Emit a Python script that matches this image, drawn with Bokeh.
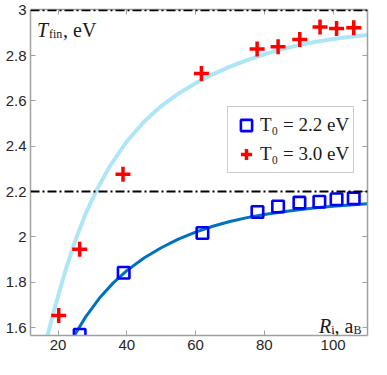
from bokeh.plotting import figure
from bokeh.models import (Range1d, LinearAxis, Legend, LegendItem, Label, Span,
                          FixedTicker, CustomJSTickFormatter)
from bokeh.embed import file_html
from bokeh.resources import INLINE

# ---- data ----
r_22 = [26.3, 39.1, 62, 78, 84, 90.2, 96, 101, 106]
t_22 = [1.568, 1.842, 2.017, 2.11, 2.134, 2.151, 2.155, 2.166, 2.17]

r_30 = [20.2, 26.3, 38.9, 61.7, 77.9, 84, 90.3, 96.2, 101, 106]
t_30 = [1.653, 1.945, 2.276, 2.721, 2.829, 2.839, 2.871, 2.926, 2.919, 2.922]

fit22_r = [24.5, 24.8, 28, 32, 36, 40, 45, 50, 55, 60, 65, 70, 75, 80, 85, 90, 95, 100, 105, 110]
fit22_t = [1.558, 1.566, 1.646, 1.729, 1.796, 1.851, 1.907, 1.952, 1.990, 2.021, 2.047, 2.068,
           2.085, 2.099, 2.110, 2.120, 2.128, 2.135, 2.141, 2.146]

fit30_r = [16.0, 16.5, 19, 22, 25, 28, 31, 35, 40, 45, 50, 55, 60, 65, 70, 75, 80, 85, 90,
           95, 100, 105, 110]
fit30_t = [1.509, 1.539, 1.684, 1.843, 1.983, 2.101, 2.2, 2.31, 2.421, 2.508, 2.577, 2.632,
           2.678, 2.717, 2.751, 2.780, 2.805, 2.827, 2.846, 2.861, 2.873, 2.883, 2.891]

t_init = [2.2, 3.0]

x_ticks = [20, 40, 60, 80, 100]
y_ticks = [1.6, 1.8, 2.0, 2.2, 2.4, 2.6, 2.8, 3.0]

labels = ["T\u2080 = 2.2 eV", "T\u2080 = 3.0 eV"]

# ---- figure ----
p = figure(width=371, height=359, x_range=Range1d(12, 110), y_range=Range1d(1.565, 3.003),
           output_backend="svg", toolbar_location=None,
           min_border_left=30, min_border_right=4, min_border_top=9, min_border_bottom=24)
p.grid.visible = False
p.outline_line_color = None
p.background_fill_color = "white"
p.border_fill_color = "white"

fmt = CustomJSTickFormatter(code="return (Math.round(tick*10)/10).toString();")
blank = CustomJSTickFormatter(code="return '';")
axis_col = "#a0a0a0"

def style(ax, ticks, formatter, show):
    ax.ticker = FixedTicker(ticks=ticks)
    ax.formatter = formatter
    ax.axis_line_color = axis_col
    ax.axis_line_width = 1.5
    ax.major_tick_line_color = axis_col
    ax.major_tick_in = 5
    ax.major_tick_out = 0
    ax.minor_tick_line_color = None
    ax.major_label_text_font = "Liberation Sans"
    ax.major_label_text_font_size = "15px" if show else "0px"
    ax.major_label_text_color = "#262626"
    ax.major_label_standoff = 4 if show else 0

style(p.xaxis[0], x_ticks, fmt, True)
style(p.yaxis[0], y_ticks, fmt, True)
top = LinearAxis()
right = LinearAxis()
style(top, x_ticks, blank, False)
style(right, y_ticks, blank, False)
p.add_layout(top, "above")
p.add_layout(right, "right")

# dash-dot reference lines
for v in t_init:
    p.add_layout(Span(location=v, dimension="width", line_color="black",
                      line_width=2, line_dash="9 3 2 3"))

# fit curves
p.line(fit30_r, fit30_t, line_color="#aee6f8", line_width=4)
p.line(fit22_r, fit22_t, line_color="#0072bd", line_width=3)

# markers
sq = p.scatter(r_22, t_22, marker="square", size=11.5, line_color="#0000ff",
               fill_color=None, line_width=2.6)
cr = p.scatter(r_30, t_30, marker="cross", size=15, line_color="#ff0000",
               line_width=3.5)

legend = Legend(items=[LegendItem(label=labels[0], renderers=[sq]),
                       LegendItem(label=labels[1], renderers=[cr])],
                location=(197, 162))
legend.label_text_font = "Liberation Serif"
legend.label_text_font_size = "19px"
legend.label_text_color = "#1a1a1a"
legend.border_line_color = "#999999"
legend.border_line_width = 1
legend.background_fill_alpha = 1
legend.glyph_width = 28
legend.glyph_height = 28
legend.label_standoff = 0
legend.spacing = 1
legend.padding = 4
legend.margin = 0
p.add_layout(legend)

serif = "Liberation Serif"
def lab(x, y, text, size, italic=False, align="left"):
    p.add_layout(Label(x=x, y=y, x_units="screen", y_units="screen", text=text,
                       text_font=serif, text_font_size=size, text_align=align,
                       text_font_style="italic" if italic else "normal",
                       text_color="#1a1a1a", text_baseline="alphabetic"))

# T_fin, eV (top-left)
lab(6.6, 306, "T", "20px", True)
lab(18.5, 302, "fin", "12px")
lab(32.5, 306, ", eV", "20px")
# R_i, a_B (bottom-right)
lab(300.7, 9.3, "R", "20px", True, "right")
lab(304, 5.3, "i", "12px", False, "right")
lab(323, 9.3, ", a", "20px", False, "right")
lab(331, 5.3, "B", "12px", False, "right")

open("out.html", "w").write(file_html(p, INLINE))
